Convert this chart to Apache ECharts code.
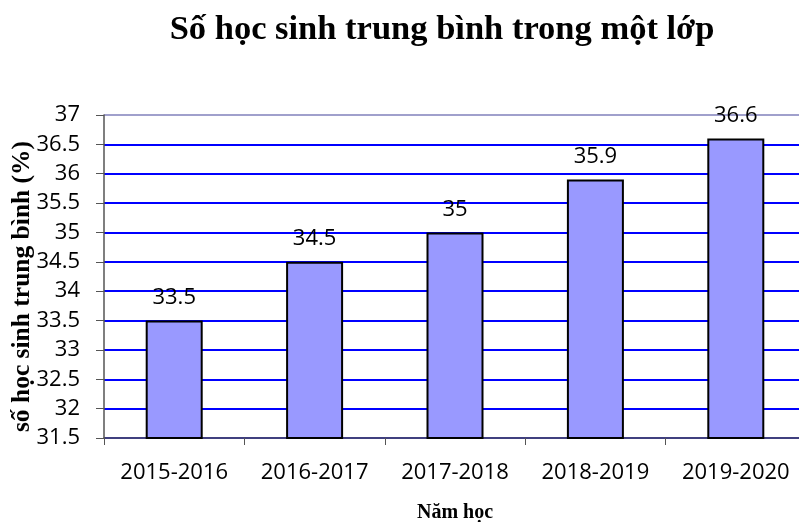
<!DOCTYPE html>
<html>
  <head>
    <meta charset="utf-8">
    <title>ECharts</title>
    <script src="https://cdn.jsdelivr.net/npm/echarts@6/dist/echarts.min.js"></script>
    <style>
      html, body { margin: 0; padding: 0; background: #fff; }
    </style>
  </head>
  <body>
    <div id="main" style="width: 799px;height:522px;"></div>
    <script type="text/javascript">
      // dữ liệu
      var namHoc = ['2015-2016', '2016-2017', '2017-2018', '2018-2019', '2019-2020'];
      var soHocSinh = [33.5, 34.5, 35, 35.9, 36.6];

      var myChart = echarts.init(document.getElementById('main'));

      // màu đường lưới: 31.5 ... 37 (dòng cuối xám)
      var gridColors = [];
      for (var i = 0; i < 11; i++) gridColors.push('#0000ff');
      gridColors.push('#a0a0cc');

      var option = {
        animation: false,
        title: {
          text: 'Số học sinh trung bình trong một lớp',
          left: 437,
          textAlign: 'center',
          top: 8,
          textStyle: {
            fontFamily: 'Liberation Serif',
            fontWeight: 'bold',
            fontSize: 34.5,
            color: '#000'
          }
        },
        grid: {
          left: 104,
          width: 702,
          top: 115,
          bottom: 84,
          outerBoundsMode: 'none',
          containLabel: false
        },
        xAxis: {
          type: 'category',
          data: namHoc,
          name: 'Năm học',
          nameLocation: 'middle',
          nameGap: 65,
          nameMoveOverlap: false,
          nameTextStyle: {
            fontFamily: 'Liberation Serif',
            fontWeight: 'bold',
            fontSize: 20,
            color: '#000'
          },
          axisLine: { lineStyle: { color: '#555', width: 1.5 } },
          axisTick: { show: true, length: 7, lineStyle: { color: '#555' } },
          axisLabel: {
            interval: 0,
            margin: 24,
            fontFamily: 'Open Sans',
            fontSize: 22,
            color: '#000'
          }
        },
        yAxis: {
          type: 'value',
          min: 31.5,
          max: 37,
          interval: 0.5,
          name: 'số học sinh trung bình (%)',
          nameLocation: 'middle',
          nameGap: 69,
          nameMoveOverlap: false,
          nameTextStyle: {
            fontFamily: 'Liberation Serif',
            fontWeight: 'bold',
            fontSize: 25.5,
            color: '#000',
            padding: [0, 20, 0, 0]
          },
          axisLine: { show: true, lineStyle: { color: '#555', width: 1.5 } },
          axisTick: { show: true, length: 8, lineStyle: { color: '#555' } },
          axisLabel: {
            margin: 24,
            fontFamily: 'Open Sans',
            fontSize: 22,
            color: '#000'
          },
          splitLine: {
            show: true,
            lineStyle: { color: gridColors, width: 2 }
          }
        },
        series: [{
          type: 'bar',
          data: soHocSinh,
          barWidth: 57,
          itemStyle: {
            color: '#9999ff',
            borderColor: '#000',
            borderWidth: 2
          },
          label: {
            show: true,
            position: 'top',
            distance: 12,
            fontFamily: 'Open Sans',
            fontSize: 22,
            color: '#000'
          }
        }]
      };

      myChart.setOption(option);
    </script>
  </body>
</html>
